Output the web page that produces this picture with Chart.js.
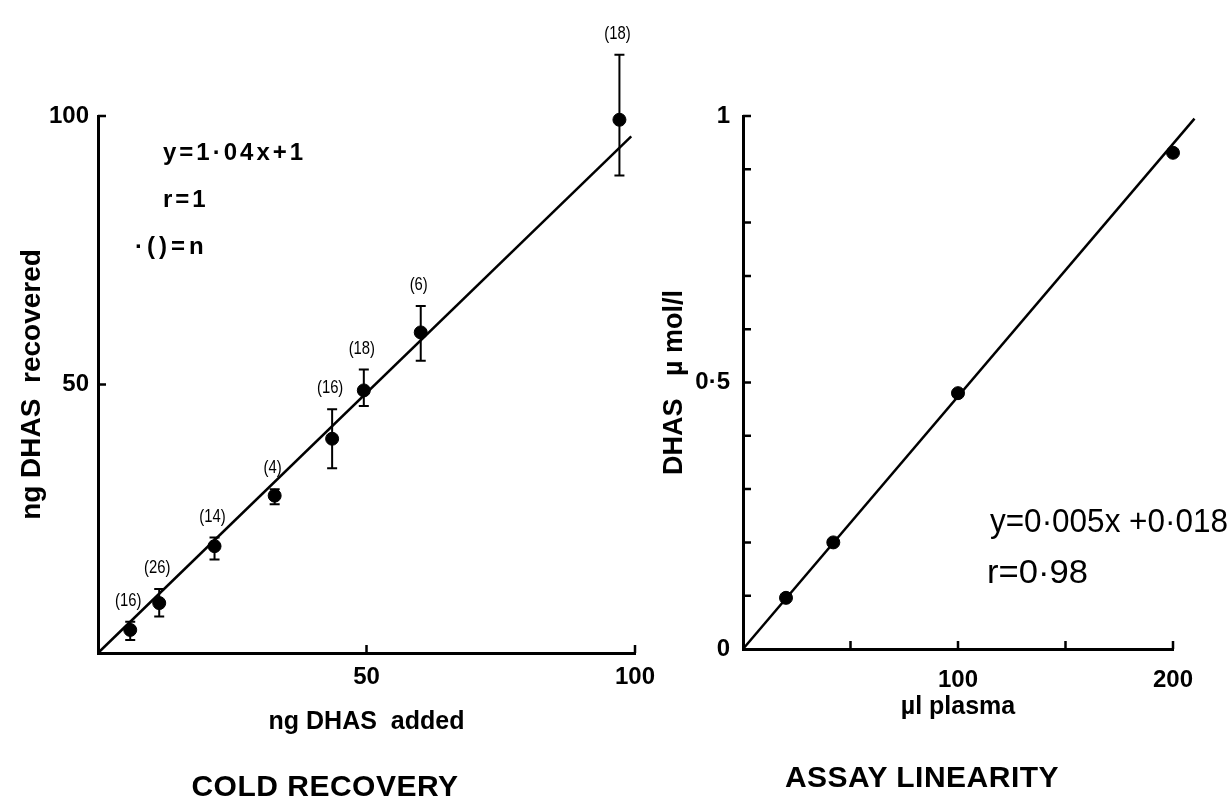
<!DOCTYPE html>
<html lang="en">
<head>
<meta charset="UTF-8">
<title>Cold recovery and assay linearity</title>
<script src="https://cdn.jsdelivr.net/npm/chart.js"></script>
<style>
  body { margin: 0; background: #fff; width: 1230px; height: 799px; position: relative; overflow: hidden;
         font-family: "Liberation Sans", Arial, sans-serif; }
  canvas { position: absolute; top: 0; }
  #chart1 { left: 0; }
  #chart2 { left: 640px; }
  .caption { position: absolute; font-weight: bold; font-size: 30px; white-space: nowrap;
             transform: translate(-50%, -50%); color: #000; letter-spacing: 0.5px; }
</style>
</head>
<body>
<canvas id="chart1" width="680" height="799"></canvas>
<canvas id="chart2" width="590" height="799"></canvas>
<div class="caption" style="left:325px; top:786px">COLD RECOVERY</div>
<div class="caption" style="left:922px; top:777px">ASSAY LINEARITY</div>

<script>
// cold recovery (left panel)
var added     = [6.0, 11.4, 21.7, 32.9, 43.6, 49.5, 60.1, 97.1];
var recovered = [4.3, 9.3, 19.9, 29.3, 39.9, 48.9, 59.7, 99.3];
var errUp     = [1.5, 2.6, 1.6, 1.2, 5.5, 3.9, 4.9, 12.1];
var errDown   = [1.9, 2.5, 2.5, 1.6, 5.5, 2.9, 5.3, 10.4];
var nCounts   = [16, 26, 14, 4, 16, 18, 6, 18];
var fitAddedX = [0, 99.3];
var fitAddedY = [0, 96.2];
var leftXLabels = [50, 100];
var leftYLabels = [50, 100];

// assay linearity (right panel)
var plasma = [20, 42, 100, 200];
var dhas   = [0.096, 0.2, 0.48, 0.931];
var fitPlasmaX = [0, 210];
var fitPlasmaY = [0, 0.995];
var rightXLabels = [100, 200];
var rightYLabels = [0, 0.5, 1];
var rightXMarks = [50, 100, 150, 200];
var rightYMarks = [0.1, 0.2, 0.3, 0.4, 0.5, 0.6, 0.7, 0.8, 0.9, 1];

var FONT = '"Liberation Sans", Arial, sans-serif';

function bold(size) {
    return { family: FONT, size: size, weight: 'bold' };
}

function toPoints(xs, ys) {
    return xs.map(function (x, i) { return { x: x, y: ys[i] }; });
}

function dotLabel(v) {
    return String(v).replace('.', '\u00b7');
}

// short tick marks pointing into the plot
var innerTicks = {
    id: 'innerTicks',
    afterDraw: function (chart, args, opts) {
        var ctx = chart.ctx, a = chart.chartArea;
        var xs = chart.scales.x, ys = chart.scales.y;
        ctx.save();
        ctx.strokeStyle = '#000';
        ctx.lineWidth = 2.5;
        ctx.beginPath();
        opts.x.forEach(function (v) {
            var px = xs.getPixelForValue(v);
            ctx.moveTo(px, a.bottom);
            ctx.lineTo(px, a.bottom - opts.len);
        });
        opts.y.forEach(function (v) {
            var py = ys.getPixelForValue(v);
            ctx.moveTo(a.left, py);
            ctx.lineTo(a.left + opts.len, py);
        });
        ctx.stroke();
        ctx.restore();
    }
};

// narrow text: squeeze horizontally
function squeezed(ctx, text, x, y, sx) {
    ctx.save();
    ctx.translate(x, y);
    ctx.scale(sx, 1);
    ctx.fillText(text, 0, 0);
    ctx.restore();
}

// error bars and (n) labels for the recovery points
var errorBars = {
    id: 'errorBars',
    afterDatasetsDraw: function (chart) {
        var ctx = chart.ctx, xs = chart.scales.x, ys = chart.scales.y;
        ctx.save();
        ctx.strokeStyle = '#000';
        ctx.fillStyle = '#000';
        ctx.lineWidth = 2;
        ctx.font = '19px ' + FONT;
        ctx.textAlign = 'center';
        ctx.textBaseline = 'middle';
        added.forEach(function (x, i) {
            var px = xs.getPixelForValue(x);
            var top = ys.getPixelForValue(recovered[i] + errUp[i]);
            var bot = ys.getPixelForValue(recovered[i] - errDown[i]);
            ctx.beginPath();
            ctx.moveTo(px, top); ctx.lineTo(px, bot);
            ctx.moveTo(px - 5, top); ctx.lineTo(px + 5, top);
            ctx.moveTo(px - 5, bot); ctx.lineTo(px + 5, bot);
            ctx.stroke();
            squeezed(ctx, '(' + nCounts[i] + ')', px - 2, top - 21, 0.78);
        });
        ctx.restore();
    }
};

// free text inside the plots
var notes = {
    id: 'notes',
    afterDraw: function (chart, args, opts) {
        var ctx = chart.ctx;
        ctx.save();
        ctx.fillStyle = '#000';
        ctx.textBaseline = 'middle';
        ctx.textAlign = 'left';
        opts.items.forEach(function (n) {
            ctx.font = n.font;
            ctx.letterSpacing = n.spacing || '0px';
            var sx = n.width ? n.width / ctx.measureText(n.text).width : 1;
            squeezed(ctx, n.text, n.x, n.y, sx);
        });
        ctx.restore();
    }
};

new Chart(document.getElementById('chart1'), {
    type: 'scatter',
    data: {
        datasets: [{
            data: toPoints(added, recovered),
            pointRadius: 6.5,
            pointHoverRadius: 6.5,
            pointBackgroundColor: '#000',
            pointBorderColor: '#000',
            clip: false
        }, {
            data: toPoints(fitAddedX, fitAddedY),
            showLine: true,
            borderColor: '#000',
            borderWidth: 2.5,
            pointRadius: 0,
            clip: false
        }]
    },
    options: {
        responsive: false,
        animation: false,
        events: [],
        layout: { padding: { left: 0, top: 116, right: 45, bottom: 0 } },
        plugins: {
            legend: { display: false },
            tooltip: { enabled: false },
            innerTicks: { x: leftXLabels, y: leftYLabels, len: 8 },
            notes: {
                items: [
                    { text: 'y=1\u00b704x+1', x: 163, y: 153, font: 'bold 24px ' + FONT, spacing: '3px' },
                    { text: 'r=1', x: 163, y: 200, font: 'bold 24px ' + FONT, spacing: '3px' },
                    { text: '\u00b7()=n', x: 135, y: 247, font: 'bold 24px ' + FONT, spacing: '4px' }
                ]
            }
        },
        scales: {
            x: {
                type: 'linear', min: 0, max: 100,
                afterFit: function (s) { s.height = 146; },
                grid: { display: false, drawTicks: false },
                border: { color: '#000', width: 3 },
                ticks: {
                    stepSize: 50, padding: 10, color: '#000', font: bold(24), autoSkip: false,
                    callback: function (v) { return leftXLabels.indexOf(v) >= 0 ? String(v) : ''; }
                },
                title: { display: true, text: 'ng DHAS  added', color: '#000', font: bold(25),
                         padding: { top: 0, bottom: 62 } }
            },
            y: {
                type: 'linear', min: 0, max: 100,
                afterFit: function (s) { s.width = 98; },
                grid: { display: false, drawTicks: false },
                border: { color: '#000', width: 3 },
                ticks: {
                    stepSize: 50, padding: 9, color: '#000', font: bold(24), autoSkip: false,
                    callback: function (v) { return leftYLabels.indexOf(v) >= 0 ? String(v) : ''; }
                },
                title: { display: true, text: 'ng DHAS  recovered', color: '#000', font: bold(28),
                         padding: { top: 15, bottom: 0 } }
            }
        }
    },
    plugins: [innerTicks, errorBars, notes]
});

new Chart(document.getElementById('chart2'), {
    type: 'scatter',
    data: {
        datasets: [{
            data: toPoints(plasma, dhas),
            pointRadius: 6.5,
            pointHoverRadius: 6.5,
            pointBackgroundColor: '#000',
            pointBorderColor: '#000',
            clip: false
        }, {
            data: toPoints(fitPlasmaX, fitPlasmaY),
            showLine: true,
            borderColor: '#000',
            borderWidth: 2.5,
            pointRadius: 0,
            clip: false
        }]
    },
    options: {
        responsive: false,
        animation: false,
        events: [],
        layout: { padding: { left: 0, top: 116, right: 57, bottom: 0 } },
        plugins: {
            legend: { display: false },
            tooltip: { enabled: false },
            innerTicks: { x: rightXMarks, y: rightYMarks, len: 8 },
            notes: {
                items: [
                    { text: 'y=0\u00b7005x +0\u00b7018', x: 350, y: 523, font: '34px ' + FONT, width: 238 },
                    { text: 'r=0\u00b798', x: 347, y: 574, font: '34px ' + FONT, width: 101 }
                ]
            }
        },
        scales: {
            x: {
                type: 'linear', min: 0, max: 200,
                afterFit: function (s) { s.height = 150; },
                grid: { display: false, drawTicks: false },
                border: { color: '#000', width: 3 },
                ticks: {
                    stepSize: 50, padding: 17, color: '#000', font: bold(24), autoSkip: false,
                    callback: function (v) { return rightXLabels.indexOf(v) >= 0 ? String(v) : ''; }
                },
                title: { display: true, text: '\u00b5l plasma', color: '#000', font: bold(25),
                         padding: { top: 0, bottom: 77 } }
            },
            y: {
                type: 'linear', min: 0, max: 1,
                afterFit: function (s) { s.width = 103; },
                grid: { display: false, drawTicks: false },
                border: { color: '#000', width: 3 },
                ticks: {
                    stepSize: 0.1, padding: 13, color: '#000', font: bold(24), autoSkip: false,
                    callback: function (v) {
                        var hit = rightYLabels.filter(function (l) { return Math.abs(l - v) < 1e-9; });
                        return hit.length ? dotLabel(hit[0]) : '';
                    }
                },
                title: { display: true, text: 'DHAS   \u00b5 mol/l', color: '#000', font: bold(27),
                         padding: { top: 18, bottom: 0 } }
            }
        }
    },
    plugins: [innerTicks, notes]
});
</script>
</body>
</html>
